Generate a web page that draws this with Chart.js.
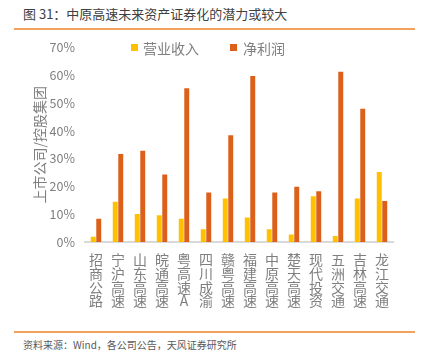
<!DOCTYPE html>
<html>
<head>
<meta charset="utf-8">
<script src="https://cdn.jsdelivr.net/npm/chart.js@4.4.1/dist/chart.umd.min.js"></script>
<style>
    body { margin: 0; background: #fff; font-family: "Noto Sans CJK SC", "Liberation Sans", sans-serif; }
    #wrap { position: relative; width: 427px; height: 354px; overflow: hidden; }
    #title { position: absolute; left: 23px; top: 4px; font-size: 13px; color: #404040; white-space: nowrap; }
    .rule { position: absolute; left: 14px; width: 401px; height: 2px; background: #f4a15d; }
    #source { position: absolute; left: 23px; top: 337px; font-size: 10px; color: #595959; white-space: nowrap; }
    #legend { position: absolute; top: 38px; left: 0; font-size: 14px; color: #7f7f7f; }
    .item { position: absolute; top: 0; white-space: nowrap; }
    .box { position: absolute; top: 6px; width: 7px; height: 7px; }
    #chartBox { position: absolute; left: 0; top: 30px; width: 427px; height: 300px; }
</style>
</head>
<body>
<div id="wrap">
    <div id="title">图 31：中原高速未来资产证券化的潜力或较大</div>
    <div class="rule" style="top:28px"></div>
    <div id="chartBox"><canvas id="chart"></canvas></div>
    <div id="legend">
        <div class="box" style="left:131px;background:#ffc000"></div>
        <div class="item" style="left:143px">营业收入</div>
        <div class="box" style="left:230px;background:#dc601a"></div>
        <div class="item" style="left:243px">净利润</div>
    </div>
    <div class="rule" style="top:331px"></div>
    <div id="source">资料来源：Wind，各公司公告，天风证券研究所</div>
</div>
<script>
const companies = ['招商公路', '宁沪高速', '山东高速', '皖通高速', '粤高速A', '四川成渝', '赣粤高速',
    '福建高速', '中原高速', '楚天高速', '现代投资', '五洲交通', '吉林高速', '龙江交通'];
const revenueShare = [1.9, 14.5, 10.1, 9.6, 8.4, 4.6, 15.7, 8.8, 4.6, 2.7, 16.5, 2.2, 15.7, 25.2];
const profitShare = [8.4, 31.7, 32.8, 24.3, 55.3, 17.8, 38.4, 59.7, 17.8, 19.9, 18.3, 61.3, 48.0, 14.8];
const yTicks = [0, 10, 20, 30, 40, 50, 60, 70];

const font = '"Noto Sans CJK SC", "Liberation Sans", sans-serif';

// vertical labels: one character per line
const labels = companies.map(name => name.split(''));

new Chart(document.getElementById('chart'), {
    type: 'bar',
    data: {
        labels,
        datasets: [
            { label: '营业收入', data: revenueShare, backgroundColor: '#ffc000',
              categoryPercentage: 0.5, barPercentage: 0.9 },
            { label: '净利润', data: profitShare, backgroundColor: '#dc601a',
              categoryPercentage: 0.5, barPercentage: 0.9 }
        ]
    },
    options: {
        responsive: true,
        maintainAspectRatio: false,
        animation: false,
        layout: { padding: { top: 16, right: 34, bottom: 0, left: 0 } },
        plugins: {
            legend: { display: false },
            tooltip: { enabled: false }
        },
        scales: {
            x: {
                grid: { display: false, drawTicks: false },
                border: { color: '#d9d9d9', width: 2 },
                ticks: {
                    color: '#7f7f7f', padding: 11, maxRotation: 0, autoSkip: false,
                    font: { family: font, size: 14, lineHeight: 0.98 }
                },
                afterFit: scale => { scale.height = 88; }
            },
            y: {
                min: 0, max: 70,
                afterBuildTicks: scale => { scale.ticks = yTicks.map(v => ({ value: v })); },
                grid: { display: false, drawTicks: false },
                border: { display: false },
                ticks: {
                    color: '#7f7f7f', padding: 10,
                    font: { family: font, size: 12.5 },
                    callback: v => v + '%'
                },
                title: {
                    display: true, text: '上市公司/控股集团', color: '#7f7f7f',
                    font: { family: font, size: 14, lineHeight: 1.2 },
                    padding: { top: 31, bottom: 0 }
                },
                afterFit: scale => { scale.width = 85; }
            }
        }
    }
});
</script>
</body>
</html>
